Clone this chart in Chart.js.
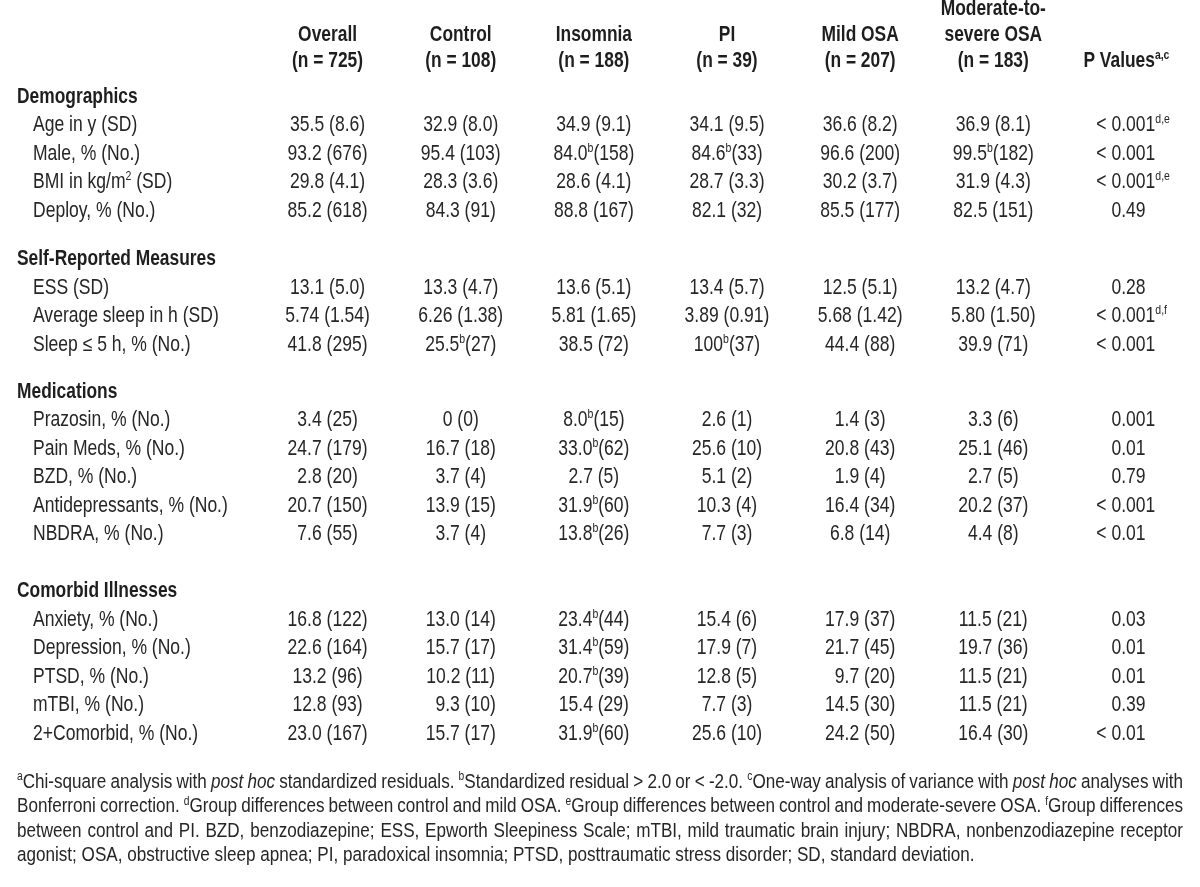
<!DOCTYPE html>
<html><head><meta charset="utf-8">
<script src="https://cdn.jsdelivr.net/npm/chart.js@4.4.1/dist/chart.umd.min.js"></script>
<style>html,body{margin:0;padding:0;background:#fff;overflow:hidden}#wrap{width:1200px;height:887px;position:relative;background:#fff}</style>
</head><body><div id="wrap"><canvas id="c" width="1200" height="887"></canvas></div>
<script>
// ---------------- DATA ----------------
const columnKeys = ['Overall','Control','Insomnia','PI','Mild OSA','Moderate-to-severe OSA','P Values'];
const columnHeaders = [
  ['Overall','(n = 725)'],
  ['Control','(n = 108)'],
  ['Insomnia','(n = 188)'],
  ['PI','(n = 39)'],
  ['Mild OSA','(n = 207)'],
  ['Moderate-to-','severe OSA','(n = 183)'],
  ['P Values^a,c^']
];
const sections = ['Demographics','Self-Reported Measures','Medications','Comorbid Illnesses'];
const rowLabels = [
  ['Age in y (SD)','Male, % (No.)','BMI in kg/m^2^ (SD)','Deploy, % (No.)'],
  ['ESS (SD)','Average sleep in h (SD)','Sleep \u2264 5 h, % (No.)'],
  ['Prazosin, % (No.)','Pain Meds, % (No.)','BZD, % (No.)','Antidepressants, % (No.)','NBDRA, % (No.)'],
  ['Anxiety, % (No.)','Depression, % (No.)','PTSD, % (No.)','mTBI, % (No.)','2+Comorbid, % (No.)']
];
const overallValues  = ['35.5 (8.6)','93.2 (676)','29.8 (4.1)','85.2 (618)','13.1 (5.0)','5.74 (1.54)','41.8 (295)','3.4 (25)','24.7 (179)','2.8 (20)','20.7 (150)','7.6 (55)','16.8 (122)','22.6 (164)','13.2 (96)','12.8 (93)','23.0 (167)'];
const controlValues  = ['32.9 (8.0)','95.4 (103)','28.3 (3.6)','84.3 (91)','13.3 (4.7)','6.26 (1.38)','25.5^b^(27)','0 (0)','16.7 (18)','3.7 (4)','13.9 (15)','3.7 (4)','13.0 (14)','15.7 (17)','10.2 (11)','\u20079.3 (10)','15.7 (17)'];
const insomniaValues = ['34.9 (9.1)','84.0^b^(158)','28.6 (4.1)','88.8 (167)','13.6 (5.1)','5.81 (1.65)','38.5 (72)','8.0^b^(15)','33.0^b^(62)','2.7 (5)','31.9^b^(60)','13.8^b^(26)','23.4^b^(44)','31.4^b^(59)','20.7^b^(39)','15.4 (29)','31.9^b^(60)'];
const piValues       = ['34.1 (9.5)','84.6^b^(33)','28.7 (3.3)','82.1 (32)','13.4 (5.7)','3.89 (0.91)','100^b^(37)','2.6 (1)','25.6 (10)','5.1 (2)','10.3 (4)','7.7 (3)','15.4 (6)','17.9 (7)','12.8 (5)','7.7 (3)','25.6 (10)'];
const mildOsaValues  = ['36.6 (8.2)','96.6 (200)','30.2 (3.7)','85.5 (177)','12.5 (5.1)','5.68 (1.42)','44.4 (88)','1.4 (3)','20.8 (43)','1.9 (4)','16.4 (34)','6.8 (14)','17.9 (37)','21.7 (45)','\u20079.7 (20)','14.5 (30)','24.2 (50)'];
const modOsaValues   = ['36.9 (8.1)','99.5^b^(182)','31.9 (4.3)','82.5 (151)','13.2 (4.7)','5.80 (1.50)','39.9 (71)','3.3 (6)','25.1 (46)','2.7 (5)','20.2 (37)','4.4 (8)','11.5 (21)','19.7 (36)','11.5 (21)','11.5 (21)','16.4 (30)'];
const pValues        = ['< 0.001^d,e^','< 0.001','< 0.001^d,e^','0.49','0.28','< 0.001^d,f^','< 0.001','0.001','0.01','0.79','< 0.001','< 0.01','0.03','0.01','0.01','0.39','< 0.01'];
const footnoteLines = [
  '^a^Chi-square analysis with _post hoc_ standardized residuals. ^b^Standardized residual > 2.0 or < -2.0. ^c^One-way analysis of variance with _post hoc_ analyses with',
  'Bonferroni correction. ^d^Group differences between control and mild OSA. ^e^Group differences between control and moderate-severe OSA. ^f^Group differences',
  'between control and PI. BZD, benzodiazepine; ESS, Epworth Sleepiness Scale; mTBI, mild traumatic brain injury; NBDRA, nonbenzodiazepine receptor',
  'agonist; OSA, obstructive sleep apnea; PI, paradoxical insomnia; PTSD, posttraumatic stress disorder; SD, standard deviation.'
];
const columnValues = [overallValues, controlValues, insomniaValues, piValues, mildOsaValues, modOsaValues, pValues];

// ---------------- LAYOUT (row units) ----------------
const sectionGaps = [0, 1.7, 1.65, 2.0];
const headerLastLine = -1.25, headerLineStep = 0.91;
const footnoteFirst = 24.05, footnoteStep = 0.86;
const sectionPos = [], rowPos = [];
(function(){ let v = 0; sections.forEach((s, i) => { if (i > 0) v += sectionGaps[i]; sectionPos.push(v); rowLabels[i].forEach(() => { v += 1; rowPos.push(v); }); }); })();
const allRowLabels = rowLabels.flat();

// ---------------- FONT ----------------
function fontAvailable(name){
  const c = document.createElement('canvas').getContext('2d');
  const s = 'Antidepressants, % (No.) 0123456789';
  let diff = false;
  ['monospace','serif'].forEach(f => {
    c.font = '40px ' + f; const a = c.measureText(s).width;
    c.font = '40px "' + name + '", ' + f; const b = c.measureText(s).width;
    if (Math.abs(a - b) > 0.5) diff = true;
  });
  return diff;
}
let FAMILY = '"Liberation Sans", Arial, sans-serif', SX = 0.82;
if (fontAvailable('Liberation Sans Narrow')) { FAMILY = '"Liberation Sans Narrow", sans-serif'; SX = 1; }
else if (fontAvailable('Arial Narrow')) { FAMILY = '"Arial Narrow", sans-serif'; SX = 1; }
const TEXT = '#262626';

const mctx = document.createElement('canvas').getContext('2d');
function fitSize(sample, target, bold){
  mctx.font = (bold ? 'bold ' : '') + '20px ' + FAMILY;
  return 20 * target / (mctx.measureText(sample).width * SX);
}
const SIZE = fitSize('Antidepressants, % (No.)', 195, false);
const BSIZE = fitSize('Self-Reported Measures', 199, true);
const FSIZE = fitSize('agonist; OSA, obstructive sleep apnea; PI, paradoxical insomnia; PTSD, posttraumatic stress disorder; SD, standard deviation.', 958, false);

function parseRich(str){
  const runs = []; let sup = false, it = false, buf = '';
  for (const ch of str) {
    if (ch === '^' || ch === '_') { if (buf) runs.push({t: buf, sup, it}); buf = ''; if (ch === '^') sup = !sup; else it = !it; }
    else buf += ch;
  }
  if (buf) runs.push({t: buf, sup, it});
  return runs;
}
function setFont(ctx, size, bold, run){
  const s = run && run.sup ? size * 0.6 : size;
  ctx.font = (run && run.it ? 'italic ' : '') + (bold ? 'bold ' : '') + s.toFixed(2) + 'px ' + FAMILY;
}
function drawRich(ctx, str, x, yMid, o){
  const size = o.size, bold = !!o.bold, align = o.align || 'left';
  let pad = 0;
  if (str.charAt(0) === '\u2007') { str = str.slice(1); setFont(ctx, size, bold); pad = ctx.measureText('0').width * SX; }
  const runs = parseRich(str);
  let total = 0, spaces = 0;
  runs.forEach(r => { setFont(ctx, size, bold, r); r.w = ctx.measureText(r.t).width * SX; total += r.w; spaces += (r.t.match(/ /g) || []).length; });
  let extra = 0;
  if (o.justify && spaces) { extra = (o.justify - total) / spaces; total = o.justify; }
  let cx;
  if (align === 'left') cx = x + pad;
  else if (align === 'right') cx = x - total;
  else cx = x - (total + pad) / 2 + pad;
  const base = yMid + size * 0.36;
  ctx.fillStyle = o.color || TEXT;
  ctx.textBaseline = 'alphabetic';
  ctx.textAlign = 'left';
  runs.forEach(r => {
    setFont(ctx, size, bold, r);
    const sw = ctx.measureText(' ').width * SX;
    const y = r.sup ? base - size * 0.36 : base;
    const parts = r.t.split(' ');
    parts.forEach((p, i) => {
      if (p) { ctx.save(); ctx.translate(cx, y); ctx.scale(SX, 1); ctx.fillText(p, 0, 0); ctx.restore(); cx += ctx.measureText(p).width * SX; }
      if (i < parts.length - 1) cx += sw + extra;
    });
  });
}

// ---------------- PLUGIN ----------------
const tablePlugin = {
  id: 'tableText',
  afterDatasetsDraw(chart){
    const ctx = chart.ctx, xs = chart.scales.x, ys = chart.scales.y;
    ctx.save();
    columnHeaders.forEach((lines, c) => {
      const x = xs.getPixelForValue(c);
      const n = lines.length;
      lines.forEach((ln, i) => {
        const y = ys.getPixelForValue(headerLastLine - (n - 1 - i) * headerLineStep);
        drawRich(ctx, ln, x, y, {size: BSIZE, bold: true, align: 'center', color: '#1e1e1e'});
      });
    });
    sections.forEach((s, i) => drawRich(ctx, s, 17, ys.getPixelForValue(sectionPos[i]), {size: BSIZE, bold: true, color: '#1e1e1e'}));
    allRowLabels.forEach((l, i) => drawRich(ctx, l, 33, ys.getPixelForValue(rowPos[i]), {size: SIZE}));
    chart.data.datasets.forEach((ds, c) => {
      const meta = chart.getDatasetMeta(c);
      meta.data.forEach((pt, r) => {
        const txt = columnValues[c][r];
        if (c === columnKeys.length - 1) {
          const anchor = pt.x - 15;
          if (txt.indexOf('< ') === 0) {
            drawRich(ctx, '< ', anchor, pt.y, {size: SIZE, align: 'right'});
            drawRich(ctx, txt.slice(2), anchor, pt.y, {size: SIZE, align: 'left'});
          } else drawRich(ctx, txt, anchor, pt.y, {size: SIZE, align: 'left'});
        } else {
          drawRich(ctx, txt, pt.x, pt.y, {size: SIZE, align: 'center'});
        }
      });
    });
    const fl = 17, fr = 1183;
    footnoteLines.forEach((ln, i) => {
      const y = ys.getPixelForValue(footnoteFirst + i * footnoteStep);
      drawRich(ctx, ln, fl, y, {size: FSIZE, justify: i < footnoteLines.length - 1 ? (fr - fl) : 0});
    });
    ctx.restore();
  }
};

const datasets = columnKeys.map((k, c) => ({
  label: k,
  data: rowPos.map(v => ({x: k, y: v})),
  showLine: false, pointRadius: 0, pointHoverRadius: 0
}));

const rowPitchPx = 28.5;
const yMin = -3.333;
const yMax = yMin + 887 / rowPitchPx;

new Chart(document.getElementById('c'), {
  type: 'line',
  data: { labels: columnKeys, datasets },
  options: {
    responsive: false, animation: false, devicePixelRatio: 1,
    layout: { padding: { left: 261, right: 7, top: 0, bottom: 0 } },
    plugins: { legend: { display: false }, tooltip: { enabled: false } },
    events: [],
    scales: {
      x: { type: 'category', display: false, offset: true },
      y: { type: 'linear', display: false, reverse: true, min: yMin, max: yMax }
    }
  },
  plugins: [tablePlugin]
});
</script></body></html>
